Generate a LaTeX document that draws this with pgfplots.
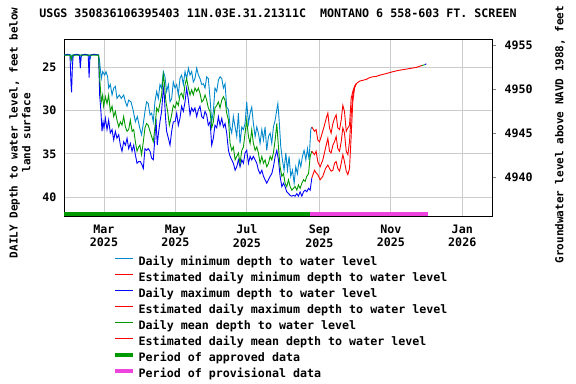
\documentclass[border=0pt]{standalone}
\usepackage{pgfplots}
\pgfplotsset{compat=1.18}
\usepackage{fontspec}
\setmainfont{DejaVu Sans Mono}
\definecolor{minblue}{RGB}{0,136,204}
\definecolor{maxblue}{RGB}{0,0,255}
\definecolor{meangreen}{RGB}{0,153,0}
\definecolor{estred}{RGB}{255,0,0}
\definecolor{provpink}{RGB}{238,68,221}
\definecolor{gridgray}{RGB}{204,204,204}
\newcommand\lab{\fontsize{11.7}{14}\selectfont\bfseries}
\newcommand\sidelab{\fontsize{11}{13}\selectfont\bfseries}
\begin{document}
\begin{tikzpicture}
% x = day of 2025 (1 = Jan 1), left y = depth below land surface (ft)
\begin{axis}[
  at={(64bp,168bp)}, anchor=south west, scale only axis,
  width=428bp, height=177bp,
  xmin=24.85, xmax=390.4, ymin=21.73, ymax=42.19, y dir=reverse,
  xtick={59,120,181,243,304,365},
  xticklabels={Mar\\2025,May\\2025,Jul\\2025,Sep\\2025,Nov\\2025,Jan\\2026},
  ytick={25,30,35,40},
  grid=major, grid style={gridgray, line width=0.9bp},
  major tick length=0pt,
  axis line style={line width=0.9bp},
  tick label style={font=\lab, /pgf/number format/assume math mode=true},
  xticklabel style={align=center, yshift=-5bp},
  yticklabel style={xshift=-4bp},
  title={USGS 350836106395403 11N.03E.31.21311C\ \ MONTANO 6 558-603 FT. SCREEN},
  title style={font=\lab, at={(axis description cs:0.5,1.113)}, anchor=center},
  ylabel={DAILY Depth to water level, feet below\\land surface},
  ylabel style={font=\sidelab, align=center, at={(axis description cs:-0.103,0.47)}, anchor=center},
  legend cell align=left,
  legend image code/.code={\draw[#1] (0bp,3.5bp) -- (18bp,3.5bp);},
  legend style={at={(axis description cs:0.1145,-0.229)}, anchor=north west,
    draw=none, fill=none, font=\lab, inner sep=0pt, row sep=5bp,
    nodes={inner sep=0pt, text height=8.5bp, text depth=2.5bp},
    /tikz/every odd column/.append style={column sep=3bp}},
]
% daily minimum (approved)
\addplot[minblue, line width=0.9bp, forget plot] coordinates {
(24.9,23.55) (27,23.6) (29,23.5) (31,23.6) (31.6,24.3) (32.3,23.6) (35,23.5) (38,23.6) (39,24.2) (39.8,23.6)
(43,23.5) (46,23.6) (47,24.1) (47.8,23.6) (51,23.5) (54,23.55) (55,24.0) (56.7,26.3) (57.9,25.5) (59.6,25.9)
(60.7,25.5) (62.1,26.1) (63,27.4) (64.4,27.0) (65.9,28.2) (67.3,27.4) (68.7,27.2) (70.1,28.6) (72.1,28.2)
(73.8,28.6) (75.8,28.2) (77.3,29.0) (78.7,29.5) (80.1,28.8) (82.1,29.0) (83.8,29.9) (85.8,31.3) (87.5,30.7)
(89.5,32.0) (91.1,32.8) (92.6,31.5) (94,30.1) (95.4,29.0) (96.8,29.2) (98.3,30.5) (99.7,30.3) (101.1,31.3)
(102.5,29.0) (104,27.8) (105.4,28.6) (106.8,27.0) (108.2,27.4) (109.7,25.5) (111.1,26.1) (112.5,27.8)
(114,27.0) (115.4,29.0) (116.8,28.6) (118.2,26.7) (119.7,27.4) (121.1,27.0) (122.5,28.2) (123.9,26.3)
(125.3,25.9) (126.8,27.0) (128.2,25.5) (129.6,26.3) (131.1,25.1) (132.5,25.9) (133.9,25.5) (135.3,26.7)
(136.7,26.3) (138.2,25.1) (139.6,25.9) (141,26.3) (142.5,27.0) (143.9,26.9) (145.3,27.4) (146.7,26.1)
(148.1,26.3) (149.6,28.6) (151,31.3) (152.4,30.1) (153.8,27.4) (155.3,27.8) (156.7,26.5) (158.1,26.1)
(159.6,26.3) (161,27.4) (162.4,26.9) (163.8,29.6) (165.3,29.9) (166.7,31.9) (168.1,32.6) (169.5,30.7)
(171,31.9) (172.4,33.0) (173.8,30.3) (175.2,33.8) (176.7,31.9) (178.1,32.2) (179.5,31.5) (180.9,29.0)
(182.4,31.5) (183.8,30.3) (185.2,29.6) (186.6,31.5) (188.1,33.0) (189.5,31.9) (190.9,32.6) (192.3,33.8)
(193.8,32.2) (195.2,33.4) (196.6,31.9) (198,34.6) (199.5,33.0) (200.9,32.6) (202.3,33.8) (203.7,31.9)
(205.2,31.1) (206.6,29.9) (207.5,29.2) (208.6,31.1) (210,34.2) (211.4,35.7) (212.8,36.9) (214.3,34.9)
(215.7,36.9) (217.1,35.3) (218.5,37.6) (220,36.9) (221.4,38.4) (222.8,36.5) (224.2,37.3) (225.7,35.7)
(227.1,36.5) (228.5,35.3) (229.9,34.6) (231.4,35.7) (232.8,34.4) (234.2,35.7) (235.6,32.2) (236.5,31.9)
};
% daily maximum (approved)
\addplot[maxblue, line width=0.9bp, forget plot] coordinates {
(24.9,23.6) (28,23.5) (30,23.6) (30.7,26.5) (31.3,27.9) (32,25.0) (32.7,23.6) (36,23.5) (38,23.6) (38.8,25.1)
(39.5,23.6) (43,23.5) (45.5,23.6) (46.3,26.2) (47,23.6) (50,23.5) (54.4,23.6) (55.3,28.2) (56.4,30.1)
(57.3,32.4) (58.2,31.3) (59,32.0) (60.2,30.9) (61.6,32.2) (63,31.1) (64.4,32.6) (65.9,32.2) (67.3,33.4)
(68.7,32.4) (70.1,33.2) (71.6,32.8) (73,34.0) (74.4,34.7) (75.8,33.6) (77.3,34.0) (78.7,33.2) (80.1,34.4)
(81.5,33.8) (83,34.7) (84.4,34.0) (85.8,35.1) (87.2,36.1) (88.7,35.9) (90.1,35.9) (91.5,36.3) (92.6,36.7)
(94,34.4) (95.4,34.6) (96.8,34.4) (98.3,34.7) (99.7,35.5) (101.1,35.7) (102.5,33.2) (103.4,30.9) (104.5,34.0)
(105.4,32.8) (106.8,31.3) (108.2,30.1) (109.7,27.4) (110.5,28.2) (111.6,30.9) (112.5,32.4) (114,33.2)
(115.4,34.0) (116.8,32.4) (118.2,31.3) (119.7,31.3) (121.1,30.3) (122.5,31.7) (123.9,30.9) (125.3,29.5)
(126.8,30.1) (128.2,29.0) (129.6,27.4) (131.1,28.8) (132.5,30.5) (133.9,29.7) (135.3,30.1) (136.7,29.7)
(138.2,30.7) (139.6,29.9) (141,29.5) (142.5,30.7) (143.9,30.9) (145.3,30.1) (146.7,30.5) (148.1,31.7)
(149.6,31.3) (151,34.0) (152.4,33.2) (153.8,31.7) (155.3,32.0) (156.7,30.7) (158.1,31.7) (159.6,30.9)
(161,31.9) (162.4,31.5) (163.8,32.6) (165.3,34.6) (166.7,35.3) (168.1,35.7) (169.5,36.1) (171,36.9)
(172.4,36.5) (173.8,35.7) (175.2,36.5) (176.7,35.7) (178.1,36.1) (179.5,34.9) (180.9,34.6) (182.4,36.1)
(183.8,35.3) (185.2,35.7) (186.6,35.3) (188.1,35.7) (189.5,36.1) (190.9,36.9) (192.3,37.3) (193.8,36.9)
(195.2,37.6) (196.6,38.0) (198,38.4) (199.5,38.0) (200.9,37.6) (202.3,37.3) (203.7,36.5) (205.2,35.3)
(206.6,34.6) (208,35.7) (209.4,37.6) (210.9,38.8) (212.3,38.4) (213.7,38.8) (215.1,39.4) (216.6,39.6)
(218,39.8) (219.4,39.9) (220.8,39.8) (222.3,39.9) (223.7,39.6) (225.1,39.9) (226.5,39.4) (228,39.9)
(229.4,39.4) (230.8,39.2) (232.2,39.4) (233.7,39.0) (235.1,39.2) (236.5,37.8)
};
% daily mean (approved)
\addplot[meangreen, line width=0.9bp, forget plot] coordinates {
(24.9,23.6) (30,23.6) (31,24.1) (31.8,23.6) (54.4,23.6) (55,25.5) (55.9,27.4) (56.7,29.0) (57.9,28.2)
(58.7,29.5) (60.2,28.4) (61.6,29.2) (63,28.2) (64.4,30.1) (65.9,29.5) (67.3,30.7) (68.7,30.1) (70.1,31.1)
(71.6,31.9) (73,31.3) (74.4,31.7) (75.8,30.7) (77.3,31.9) (78.7,32.4) (80.1,32.2) (81.5,31.1) (83,32.4)
(84.4,32.2) (85.8,33.6) (87.2,34.7) (88.7,34.2) (89.7,34.0) (91.1,35.1) (92.6,33.6) (94,32.0) (95.4,31.5)
(96.8,31.7) (98.3,32.4) (99.7,33.0) (101.1,33.6) (102.5,32.0) (104,29.7) (105.4,30.1) (106.8,29.2)
(108.2,28.2) (109.7,25.9) (110.5,26.7) (111.9,29.0) (113.4,30.1) (114.8,31.7) (116.2,30.9) (118.2,29.4)
(119.7,29.7) (121.1,29.0) (122.5,29.4) (123.9,28.2) (125.3,28.0) (126.8,28.6) (128.2,27.0) (129.6,26.3)
(131.1,27.4) (132.5,28.2) (133.9,27.6) (135.3,28.2) (136.7,27.4) (138.2,27.8) (139.6,27.4) (141,28.0)
(142.5,29.0) (143.9,28.8) (145.3,28.2) (146.7,28.8) (148.1,29.7) (149.6,30.1) (151,32.0) (152.4,31.3)
(153.8,29.7) (155.3,29.4) (156.7,29.0) (158.1,29.7) (159.6,28.8) (161,28.4) (162.4,28.8) (163.8,30.3)
(165.3,31.1) (166.7,33.8) (168.1,34.6) (169.5,34.2) (171,35.7) (172.4,35.3) (173.8,34.9) (175.2,36.1)
(176.7,34.6) (178.1,34.2) (179.5,32.6) (180.9,31.1) (182.4,33.0) (183.8,33.8) (185.2,32.2) (186.6,33.8)
(188.1,34.6) (189.5,34.2) (190.9,34.9) (192.3,36.1) (193.8,35.3) (195.2,36.1) (196.6,35.7) (198,36.5)
(199.5,36.1) (200.9,35.3) (202.3,35.7) (203.7,34.9) (205.2,33.4) (206.6,31.5) (208,34.2) (209.4,36.5)
(210.9,37.6) (212.3,37.3) (213.7,38.4) (215.1,38.8) (216.6,38.0) (218,38.8) (219.4,39.2) (220.8,39.0)
(222.3,38.8) (223.7,39.2) (225.1,38.6) (226.5,39.0) (228,38.4) (229.4,38.0) (230.8,38.2) (232.2,37.6)
(233.7,37.3) (235.1,35.3) (236.5,34.7)
};
% estimated daily minimum
\addplot[estred, line width=0.9bp, forget plot] coordinates {
(236.5,31.9) (238.8,32.4) (240.2,32.2) (241.6,33.4) (243.1,33.6) (244.5,33.0) (247.3,31.7) (248.8,30.9)
(250.2,30.3) (251.6,32.0) (253,32.6) (254.5,31.5) (255.9,30.9) (257.3,30.5) (258.7,32.0) (260.2,32.2)
(261.6,31.1) (263,29.4) (264.4,30.1) (265.9,32.4) (267.3,32.0) (268.7,31.7) (270.1,28.6) (271.5,27.8)
(273,27.2) (274.4,26.9) (277.3,26.6) (280.1,26.5) (283,26.4) (285.8,26.2) (288.5,26.1) (291.5,26.05)
(294.9,25.9) (298,25.8) (302,25.65) (306,25.5) (309.1,25.4) (313,25.3) (317.7,25.2) (322,25.1)
(326.2,25.0) (329.1,24.85) (330.5,24.8)
};
% estimated daily mean
\addplot[estred, line width=0.9bp, forget plot] coordinates {
(236.5,34.7) (238.8,35.1) (240.2,34.7) (241.6,35.9) (243.6,36.5) (245.9,35.7) (248.8,34.0) (250.2,33.2)
(251.6,34.7) (253,34.9) (254.5,34.0) (255.9,33.6) (257.3,33.0) (258.7,34.4) (260.2,34.7) (261.6,33.6)
(263,32.0) (264.4,32.6) (265.9,34.7) (267.3,35.1) (268.7,33.6) (270.1,30.5) (271.5,28.2) (273,27.3)
(274.4,26.9)
};
% estimated daily maximum
\addplot[estred, line width=0.9bp, forget plot] coordinates {
(236.5,37.8) (238.8,36.9) (240.2,37.2) (241.6,37.4) (243.6,38.0) (245.9,37.6) (248.2,36.7) (250.2,36.3)
(251.6,36.7) (253,37.0) (254.5,36.9) (255.9,36.1) (257.3,35.9) (258.7,36.7) (260.2,37.0) (261.6,36.1)
(263,35.1) (264.4,35.9) (265.9,37.0) (267.3,37.4) (268.7,36.7) (270.1,33.0) (271.5,29.0) (273,27.4)
(274.4,26.9)
};
% last few days
\addplot[meangreen, line width=0.9bp, forget plot] coordinates {(330.5,24.8) (333,24.7)};
\addplot[maxblue, line width=0.9bp, forget plot] coordinates {(333,24.7) (334.3,24.6)};
% approval periods
\addplot[meangreen, line width=4.5bp, forget plot] coordinates {(24.85,41.98) (235.1,41.98)};
\addplot[provpink, line width=4.5bp, forget plot] coordinates {(235.1,41.98) (335.8,41.98)};
\addlegendimage{minblue, line width=1.1bp}
\addlegendimage{estred, line width=1.1bp}
\addlegendimage{maxblue, line width=1.1bp}
\addlegendimage{estred, line width=1.1bp}
\addlegendimage{meangreen, line width=1.1bp}
\addlegendimage{estred, line width=1.1bp}
\addlegendimage{meangreen, line width=4.5bp}
\addlegendimage{provpink, line width=4.5bp}
\legend{Daily minimum depth to water level,
  Estimated daily minimum depth to water level,
  Daily maximum depth to water level,
  Estimated daily maximum depth to water level,
  Daily mean depth to water level,
  Estimated daily mean depth to water level,
  Period of approved data,
  Period of provisional data}
\end{axis}
% right axis: elevation above NAVD 1988
\begin{axis}[
  at={(64bp,168bp)}, anchor=south west, scale only axis,
  width=428bp, height=177bp,
  xmin=24.85, xmax=390.4, ymin=4935.57, ymax=4955.68,
  axis y line*=right, axis x line=none,
  ytick={4940,4945,4950,4955},
  tick align=outside, major tick length=4bp,
  axis line style={line width=0.9bp},
  yticklabel style={font=\lab, xshift=5bp, /pgf/number format/1000 sep={},
    /pgf/number format/assume math mode=true},
  ylabel={Groundwater level above NAVD 1988, feet},
  ylabel style={font=\sidelab, at={(axis description cs:1.159,0.46)}, anchor=center},
]
\end{axis}
\pgfresetboundingbox
\path[use as bounding box] (0bp,0bp) rectangle (576bp,384bp);
\end{tikzpicture}
\end{document}
